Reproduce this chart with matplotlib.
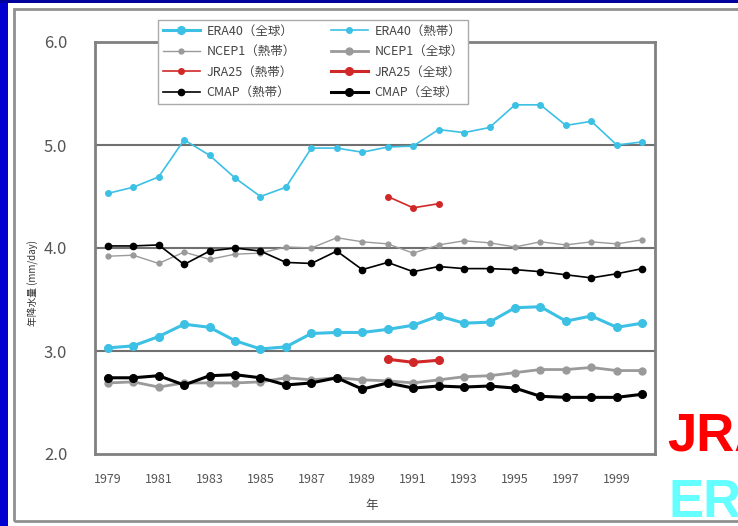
import matplotlib
matplotlib.use("Agg")
import matplotlib.pyplot as plt
from matplotlib.patches import Rectangle

plt.rcParams['font.family'] = ['Noto Sans CJK JP', 'DejaVu Sans']

years = list(range(1979, 2001))
jra_years = [1990, 1991, 1992]

# annual mean precipitation (mm/day)
era40_trop = [4.53, 4.59, 4.69, 5.05, 4.90, 4.68, 4.50, 4.59, 4.97, 4.97, 4.93,
              4.98, 4.99, 5.15, 5.12, 5.17, 5.39, 5.39, 5.19, 5.23, 5.00, 5.03]
era40_glob = [3.03, 3.05, 3.14, 3.26, 3.23, 3.10, 3.02, 3.04, 3.17, 3.18, 3.18,
              3.21, 3.25, 3.34, 3.27, 3.28, 3.42, 3.43, 3.29, 3.34, 3.23, 3.27]
ncep_trop = [3.92, 3.93, 3.85, 3.96, 3.89, 3.94, 3.95, 4.01, 4.00, 4.10, 4.06,
             4.04, 3.95, 4.03, 4.07, 4.05, 4.01, 4.06, 4.03, 4.06, 4.04, 4.08]
ncep_glob = [2.69, 2.70, 2.65, 2.69, 2.69, 2.69, 2.70, 2.74, 2.72, 2.74, 2.72,
             2.71, 2.69, 2.72, 2.75, 2.76, 2.79, 2.82, 2.82, 2.84, 2.81, 2.81]
cmap_trop = [4.02, 4.02, 4.03, 3.84, 3.97, 4.00, 3.97, 3.86, 3.85, 3.97, 3.79,
             3.86, 3.77, 3.82, 3.80, 3.80, 3.79, 3.77, 3.74, 3.71, 3.75, 3.80]
cmap_glob = [2.74, 2.74, 2.76, 2.67, 2.76, 2.77, 2.74, 2.67, 2.69, 2.74, 2.63,
             2.69, 2.64, 2.66, 2.65, 2.66, 2.64, 2.56, 2.55, 2.55, 2.55, 2.58]
jra_trop = [4.50, 4.39, 4.43]
jra_glob = [2.92, 2.89, 2.91]

CYAN = '#3cc0e4'
GREY = '#9a9a9a'
RED = '#d02828'

fig = plt.figure(figsize=(7.38, 5.26), dpi=100, facecolor='#0000d0')
W, H = 738, 526

# white slide panel with grey frame
fig.patches.append(Rectangle((0, 1 - 3 / H), 1, 3 / H, transform=fig.transFigure,
                             facecolor='#00009c', edgecolor='none', zorder=-3))
fig.patches.append(Rectangle((8 / W, 0), 1, 1 - 3 / H, transform=fig.transFigure,
                             facecolor='white', edgecolor='none', zorder=-3))
fig.patches.append(Rectangle((14 / W, 5 / H), 1, 1 - 14 / H, transform=fig.transFigure,
                             facecolor='none', edgecolor='#909090', lw=2, zorder=-2))

ax = fig.add_axes([95 / W, 1 - 454 / H, 560 / W, 412 / H])
ax.set_zorder(2)
ax.set_facecolor('white')

h1, = ax.plot(years, era40_glob, color=CYAN, lw=2.2, marker='o', ms=5.5, label='ERA40（全球）')
h2, = ax.plot(years, ncep_trop, color=GREY, lw=1, marker='o', ms=3.5, label='NCEP1（熱帯）')
h3, = ax.plot(jra_years, jra_trop, color=RED, lw=1.2, marker='o', ms=4, label='JRA25（熱帯）')
h4, = ax.plot(years, cmap_trop, color='black', lw=1.2, marker='o', ms=4.5, label='CMAP（熱帯）')
h5, = ax.plot(years, era40_trop, color=CYAN, lw=1.2, marker='o', ms=4, label='ERA40（熱帯）')
h6, = ax.plot(years, ncep_glob, color=GREY, lw=2, marker='o', ms=5, label='NCEP1（全球）')
h7, = ax.plot(jra_years, jra_glob, color=RED, lw=2.2, marker='o', ms=5.5, label='JRA25（全球）')
h8, = ax.plot(years, cmap_glob, color='black', lw=2.2, marker='o', ms=5.5, label='CMAP（全球）')

ax.set_xlim(1978.5, 2000.5)
ax.set_ylim(2.0, 6.0)
ax.set_yticks([2.0, 3.0, 4.0, 5.0, 6.0])
ax.set_yticklabels(['2.0', '3.0', '4.0', '5.0', '6.0'])
ax.set_xticks(range(1979, 2000, 2))
ax.tick_params(length=0, colors='#555555')
ax.tick_params(axis='y', labelsize=12, pad=20)
ax.tick_params(axis='x', labelsize=9, pad=14)
for y in [3.0, 4.0, 5.0]:
    ax.axhline(y, color='#707070', lw=1.5, zorder=0)
for s in ax.spines.values():
    s.set_color('#808080')
    s.set_linewidth(2)

fig.text(372 / W, 1 - 505 / H, '年', ha='center', va='center', fontsize=9, color='#444444')
fig.text(33 / W, 1 - 283 / H, '年降水量 (mm/day)', rotation=90, ha='center', va='center',
         fontsize=7, color='#333333')

leg = fig.legend(handles=[h1, h2, h3, h4, h5, h6, h7, h8], ncol=2,
                 loc='upper left', bbox_to_anchor=(152 / W, 1 - 14 / H),
                 fontsize=9, frameon=True, fancybox=False, framealpha=1,
                 edgecolor='#aaaaaa', handlelength=3, columnspacing=2.8,
                 labelspacing=0.6, borderpad=0.35, handletextpad=0.5)
leg.set_zorder(5)
for t in leg.get_texts():
    t.set_color('#444444')

fig.text(667 / W, 1 - 452 / H, 'JRA25', color='#ff0000', fontsize=38,
         fontweight='bold', family=['Liberation Sans', 'DejaVu Sans'])
fig.text(668 / W, 1 - 517 / H, 'ERA40', color='#66ffff', fontsize=38,
         fontweight='bold', family=['Liberation Sans', 'DejaVu Sans'])

fig.savefig('out.png', dpi=100, facecolor=fig.get_facecolor())
